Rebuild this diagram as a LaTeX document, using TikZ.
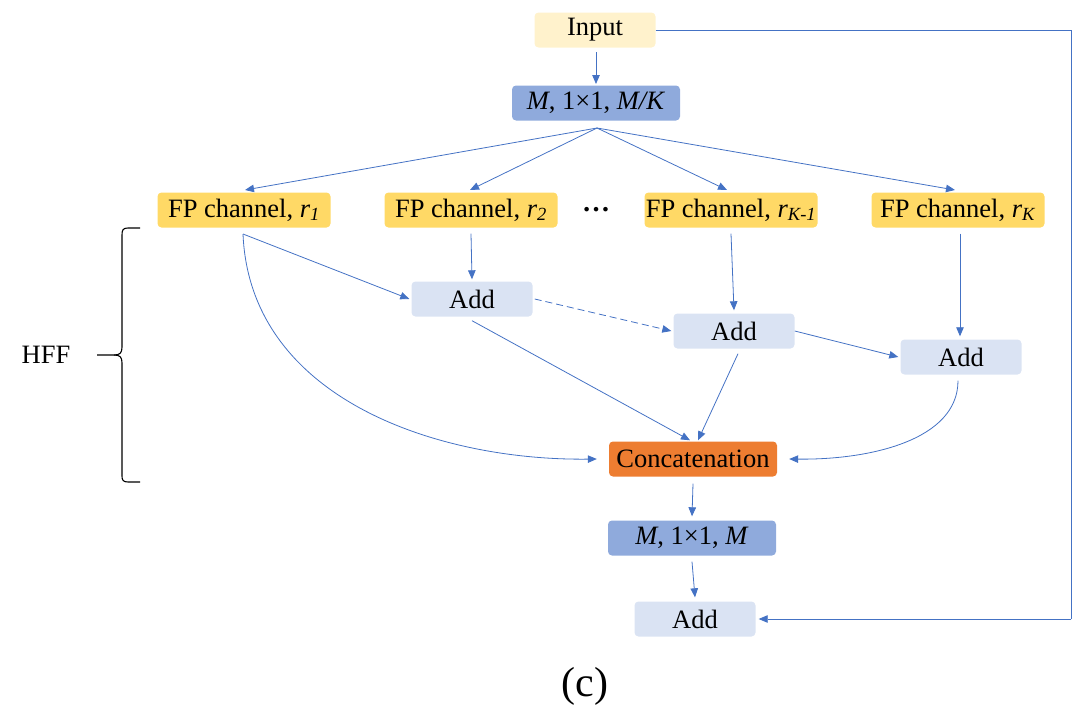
\documentclass[tikz,border=0pt]{standalone}
\usepackage{fontspec}
\setmainfont{Liberation Serif}
\usetikzlibrary{arrows.meta}
\definecolor{inputc}{HTML}{FFF2CC}
\definecolor{convc}{HTML}{8FAADC}
\definecolor{fpc}{HTML}{FFD966}
\definecolor{addc}{HTML}{DAE3F3}
\definecolor{catc}{HTML}{ED7D31}
\definecolor{linec}{HTML}{4472C4}
\tikzset{
  box/.style={rounded corners=4pt, inner sep=0pt, minimum height=35pt, font=\fontsize{26.5}{29}\selectfont},
  inbox/.style={box, fill=inputc, minimum width=121pt},
  convbox/.style={box, fill=convc, minimum width=168pt},
  fpbox/.style={box, fill=fpc, minimum width=173pt},
  addbox/.style={box, fill=addc, minimum width=121pt},
  catbox/.style={box, fill=catc, minimum width=168pt},
  conn/.style={draw=linec, line width=0.8pt, -{Triangle[length=9pt,width=7.5pt]}, color=linec},
  plain/.style={draw=linec, line width=0.8pt},
}
\newcommand{\rsub}[1]{\textit{r}\textsubscript{\textit{#1}}}
\begin{document}
\begin{tikzpicture}[x=1pt,y=-1pt]
\useasboundingbox (0,0) rectangle (1077,712);
\node[inbox] (in) at (595,30) {Input};
\node[convbox] (mk) at (596,103) {\textit{M}, 1×1, \textit{M/K}};
\node[fpbox] (f1) at (244,210) {FP channel, \rsub{1}};
\node[fpbox] (f2) at (471,210) {FP channel, \rsub{2}};
\node[font=\fontsize{28}{30}\selectfont\bfseries] (dots) at (596,210) {…};
\node[fpbox] (fk1) at (731,210) {FP channel, \rsub{K-1}};
\node[fpbox] (fk) at (958,210) {FP channel, \rsub{K}};
\node[addbox] (a1) at (472,299) {Add};
\node[addbox] (a2) at (734,331) {Add};
\node[addbox] (a3) at (961,357) {Add};
\node[catbox] (cat) at (693,459) {Concatenation};
\node[convbox] (mm) at (692,538) {\textit{M}, 1×1, \textit{M}};
\node[addbox] (af) at (695,619) {Add};
\node[font=\fontsize{26.5}{29}\selectfont] (hff) at (46,355) {HFF};
\node[font=\fontsize{42}{46}\selectfont] (cap) at (585,686) {(c)};

\coordinate (mkb) at (597,128);
\coordinate (r1) at (1071,30);
\coordinate (r2) at (1071,619);
\coordinate (inb) at (596,52);
\coordinate (mkt) at (596,84);

\draw[conn] (inb) -- (mkt);
\draw[plain] (in.east) -- (r1) -- (r2);
\draw[conn] (r2) -- ([xshift=3pt]af.east);

\draw[conn] (mkb) -- (245,190);
\draw[conn] (mkb) -- (470,190);
\draw[conn] (mkb) -- (727,190);
\draw[conn] (mkb) -- (955,190);

\coordinate (f1b) at (243,234);
\draw[conn] (f1b) -- ([xshift=-2pt]a1.west);
\draw[conn] (f1b) .. controls (250,400) and (440,461) .. ([xshift=-12pt]cat.west);
\draw[conn] ([yshift=-6pt]f2.south) -- ([yshift=2pt]a1.north);
\draw[conn, dash pattern=on 7pt off 4pt] ([xshift=2pt]a1.east) -- ([xshift=-2pt]a2.west);
\draw[conn] ([yshift=-4pt]a1.south) -- ([xshift=-3pt,yshift=1pt]cat.north);
\draw[conn] ([yshift=-6pt]fk1.south) -- ([yshift=3pt]a2.north);
\draw[conn] ([xshift=4pt,yshift=-5pt]a2.south) -- ([xshift=5pt,yshift=1pt]cat.north);
\draw[conn] (a2.east) -- ([xshift=-2pt]a3.west);
\draw[conn] ([xshift=2pt,yshift=-6pt]fk.south) -- ([xshift=-1pt,yshift=3pt]a3.north);
\draw[conn] ([xshift=-3pt,yshift=-6pt]a3.south) .. controls (958,440) and (870,460) .. ([xshift=12pt]cat.east);
\draw[conn] ([yshift=-7pt]cat.south) -- ([yshift=4pt]mm.north);
\draw[conn] ([yshift=-6pt]mm.south) -- ([yshift=4pt]af.north);

\draw[black, line width=1.1pt] (140,228) -- (128,228) .. controls (123,228) and (122,230) .. (122,235) -- (122,347) .. controls (122,353) and (120,355) .. (114,355) -- (97,355);
\draw[black, line width=1.1pt] (114,355) .. controls (120,355) and (122,357) .. (122,363) -- (122,476) .. controls (122,480) and (123,482) .. (128,482) -- (140,482);
\end{tikzpicture}
\end{document}
